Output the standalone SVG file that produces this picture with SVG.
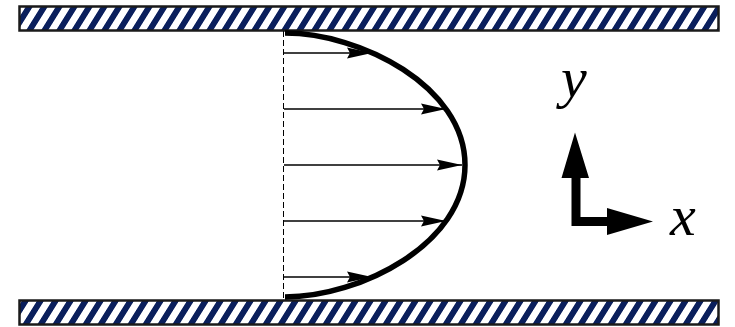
<svg xmlns="http://www.w3.org/2000/svg" width="735" height="327" viewBox="0 0 735 327">
<defs>
<pattern id="hatch" patternUnits="userSpaceOnUse" width="15" height="50" patternTransform="skewX(-32)">
<rect x="0" y="0" width="15" height="50" fill="#ffffff"/>
<rect x="0" y="0" width="7" height="50" fill="#0a1f5c"/>
</pattern>
<marker id="ah" markerUnits="userSpaceOnUse" markerWidth="26" markerHeight="12" refX="25" refY="6" orient="auto">
<path d="M0,0.5 L25,6 L0,11.5 L3,6 Z" fill="#000"/>
</marker>
<style>
.wall{fill:url(#hatch);stroke:#1a1a1a;stroke-width:2.5}
.vel{stroke:#000;stroke-width:1.4;fill:none;marker-end:url(#ah)}
.prof{stroke:#000;stroke-width:5.5;fill:none}
.dash{stroke:#000;stroke-width:1;stroke-dasharray:6,3;fill:none}
.lbl{font-family:"Liberation Serif","DejaVu Serif",serif;font-style:italic;font-size:58px;fill:#000}
</style>
</defs>
<g id="top-wall"><rect class="wall" x="19.5" y="6.5" width="699" height="24"/></g>
<g id="bottom-wall"><rect class="wall" x="19.5" y="300.5" width="699" height="24"/></g>
<g id="profile">
<line class="dash" x1="283.5" y1="31" x2="283.5" y2="300"/>
<path class="prof" d="M285,33 C360,33 465,86 465,165 C465,244 360,297 285,297"/>
</g>
<g id="connectors">
<line class="vel" x1="284" y1="53" x2="372" y2="53"/>
<line class="vel" x1="284" y1="109" x2="446" y2="109"/>
<line class="vel" x1="284" y1="165" x2="462" y2="165"/>
<line class="vel" x1="284" y1="221" x2="446" y2="221"/>
<line class="vel" x1="284" y1="277" x2="372" y2="277"/>
</g>
<g id="axes">
<path d="M571.5,226 L571.5,178 L561.5,178 L575,132.5 L589,178 L580.5,178 L580.5,217 L607,217 L607,208 L653,221.5 L607,235 L607,226 Z" fill="#000"/>
<text class="lbl" x="561" y="97">y</text>
<text class="lbl" x="670" y="235">x</text>
</g>
</svg>
